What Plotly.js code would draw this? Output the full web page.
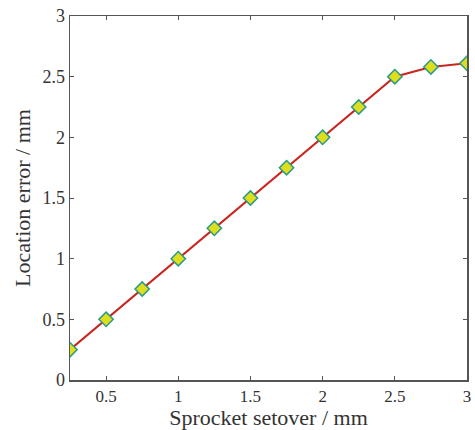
<!DOCTYPE html>
<html><head><meta charset="utf-8">
<script src="https://cdn.plot.ly/plotly-3.0.1.min.js"></script>
<style>body{margin:0;background:#fff}#c{width:475px;height:430px}</style>
</head><body><div id="c"></div>
<script>
const setover = [0.25,0.5,0.75,1.0,1.25,1.5,1.75,2.0,2.25,2.5,2.75,3.0];
const locError = [0.25,0.5,0.75,1.0,1.25,1.5,1.75,2.0,2.25,2.5,2.58,2.61];
const xTicks = [0.5,1,1.5,2,2.5,3];
const yTicks = [0,0.5,1,1.5,2,2.5,3];
const font = 'Liberation Serif, Times New Roman, serif';
Plotly.newPlot('c', [{
  x: setover, y: locError, mode: 'lines+markers', type: 'scatter',
  line: {color: '#c8261e', width: 2},
  marker: {symbol: 'diamond', size: 11, color: '#dede1e', line: {color: '#2a9a8a', width: 1.5}}
}], {
  width: 475, height: 430,
  margin: {l: 70, r: 8, t: 16, b: 50},
  paper_bgcolor: '#fff', plot_bgcolor: '#fff',
  showlegend: false,
  font: {family: font, size: 17, color: '#333'},
  xaxis: {range: [0.25, 3], tickvals: xTicks, ticktext: xTicks.map(String), ticks: 'inside', ticklen: 4,
    tickcolor: '#555', showline: true, linecolor: '#555', linewidth: 1.5, mirror: 'ticks', showgrid: false, zeroline: false,
    tickfont: {family: font, size: 17, color: '#333'},
    title: {text: 'Sprocket setover / mm', font: {family: font, size: 22, color: '#333'}, standoff: 3}},
  yaxis: {range: [0, 3], tickvals: yTicks, ticktext: yTicks.map(String), ticks: 'inside', ticklen: 4,
    tickcolor: '#555', showline: true, linecolor: '#555', linewidth: 1.5, mirror: 'ticks', showgrid: false, zeroline: false,
    tickfont: {family: font, size: 18, color: '#333'},
    title: {text: 'Location error / mm', font: {family: font, size: 22, color: '#333'}, standoff: 5}}
}, {displayModeBar: false, staticPlot: true});
</script></body></html>
